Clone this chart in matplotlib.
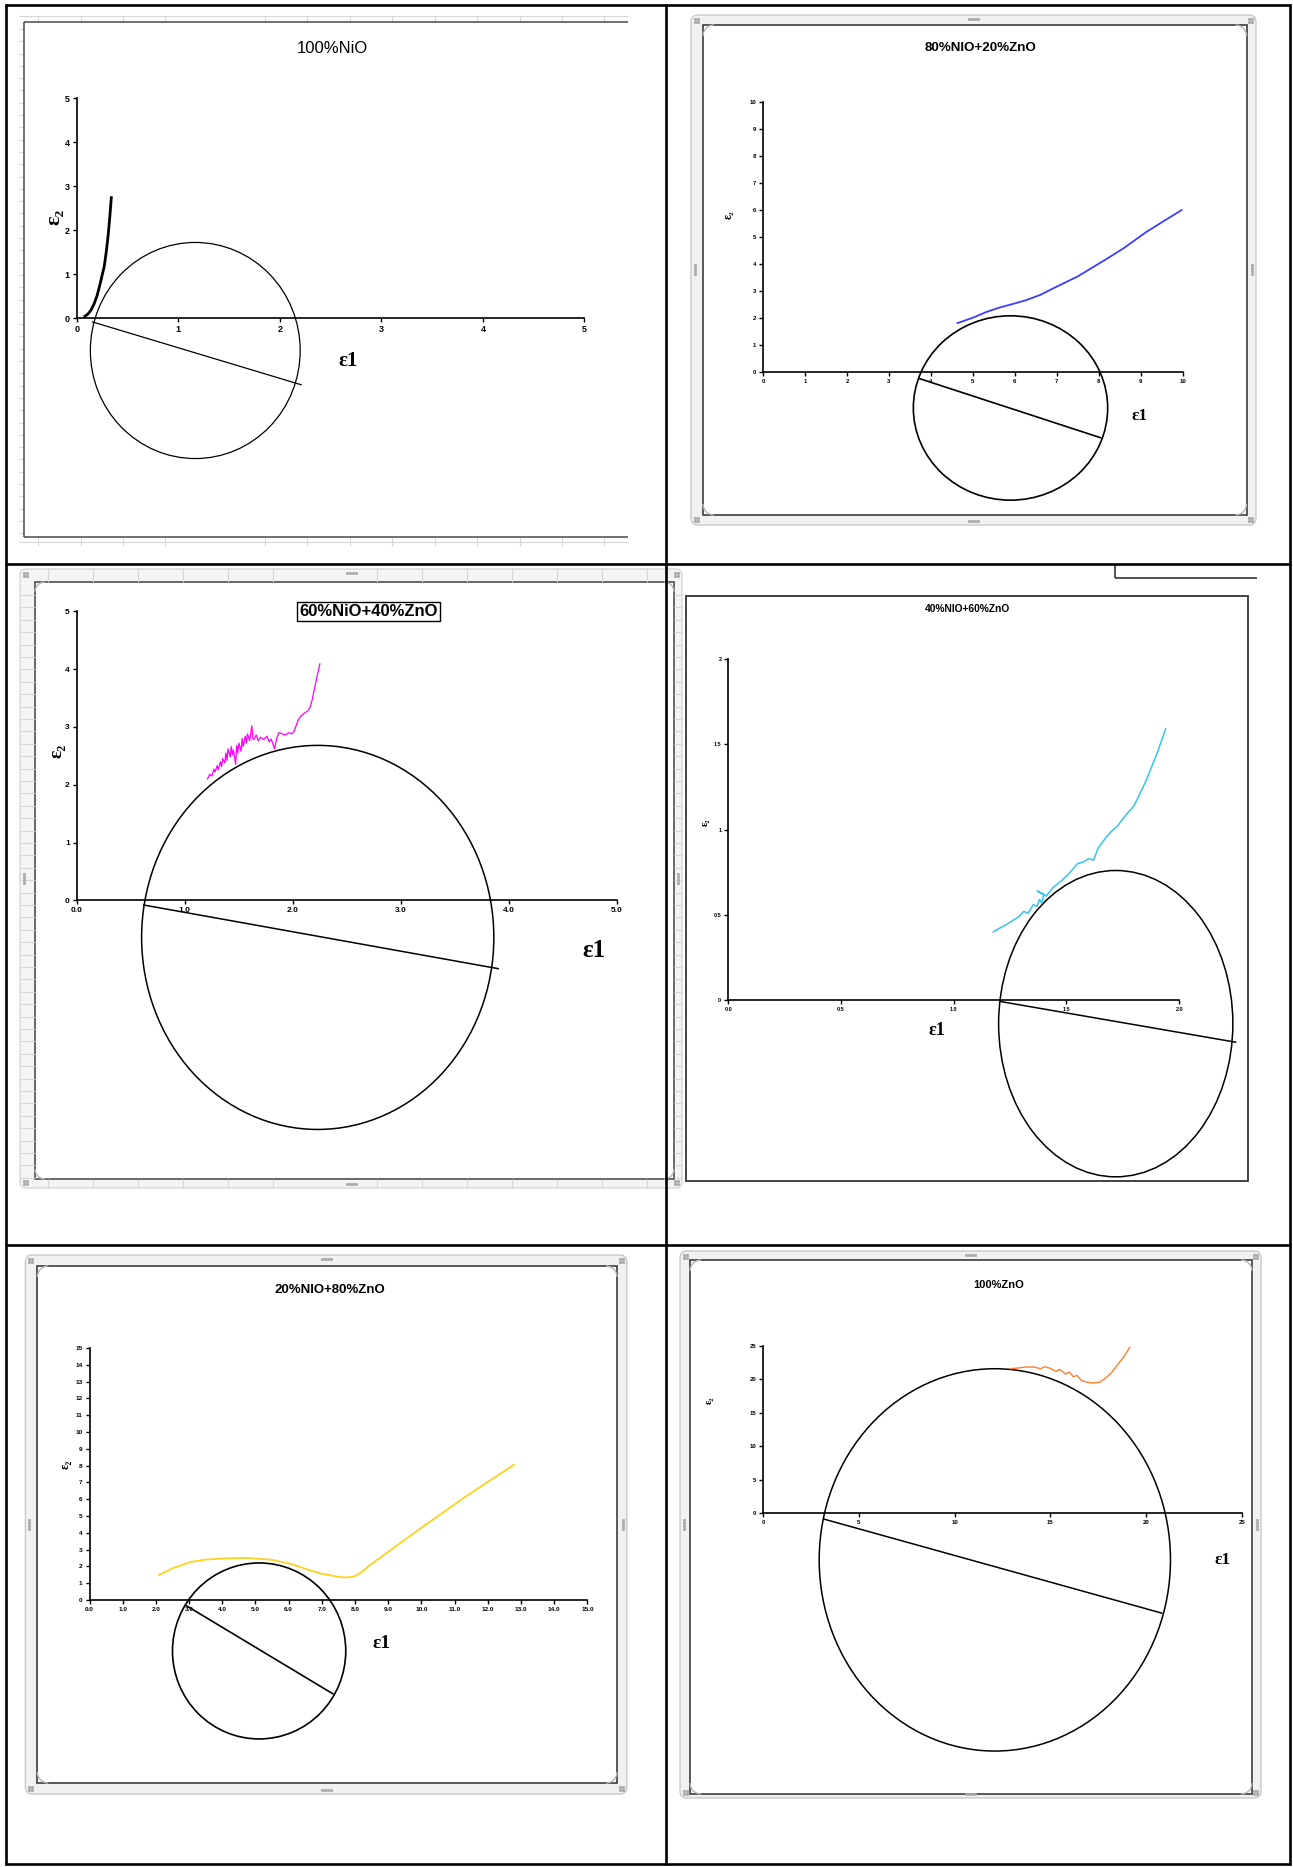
import numpy as np
import matplotlib.pyplot as plt
from matplotlib import font_manager
from matplotlib.patches import Ellipse, Rectangle, FancyBboxPatch, Arc

W, H = 1293, 1867


def pick(*names):
    for name in names:
        try:
            font_manager.findfont(name, fallback_to_default=False)
            return name
        except ValueError:
            continue
    return 'DejaVu Sans'


SANS = pick('Liberation Sans', 'Arial')
NARROW = pick('Liberation Sans Narrow', 'Arial Narrow', SANS)
SERIF = pick('Liberation Serif', 'Times New Roman', 'DejaVu Serif')

# ---- data: eps1 / eps2 curves, fitted circle (centre e1, centre e2, width, height), chord ----
nio_e1 = [0.08, 0.11, 0.14, 0.17, 0.20, 0.23, 0.25, 0.27, 0.29, 0.31, 0.325, 0.34]
nio_e2 = [0.04, 0.09, 0.18, 0.32, 0.51, 0.78, 0.98, 1.17, 1.50, 1.91, 2.30, 2.74]
nio_circle = [1.167, -0.74, 2.067, 4.92]
nio_chord = [[0.155, 2.21], [-0.09, -1.52]]

n80_e1 = [4.63, 5.0, 5.3, 5.6, 6.0, 6.25, 6.6, 6.97, 7.5, 8.16, 8.6, 9.11, 9.5, 9.97]
n80_e2 = [1.82, 2.02, 2.22, 2.38, 2.55, 2.66, 2.86, 3.15, 3.55, 4.17, 4.6, 5.17, 5.55, 6.0]
n80_circle = [5.895, -1.32, 4.63, 6.82]
n80_chord = [[3.72, 8.04], [-0.23, -2.42]]

n60_e1 = [1.21, 1.23, 1.25, 1.27, 1.28, 1.30, 1.31, 1.33, 1.34, 1.35, 1.37, 1.38, 1.39,
          1.40, 1.42, 1.43, 1.44, 1.45, 1.47, 1.48, 1.49, 1.50, 1.52, 1.53, 1.54, 1.56,
          1.57, 1.58, 1.60, 1.62, 1.63, 1.64, 1.66, 1.68, 1.70, 1.73, 1.76, 1.78, 1.80,
          1.83, 1.85, 1.87, 1.90, 1.93, 1.96, 1.99, 2.01, 2.03, 2.05, 2.08, 2.11, 2.14,
          2.16, 2.18, 2.20, 2.22, 2.25]
n60_e2 = [2.10, 2.18, 2.15, 2.27, 2.22, 2.33, 2.26, 2.40, 2.31, 2.45, 2.38, 2.55, 2.42,
          2.62, 2.48, 2.66, 2.52, 2.60, 2.35, 2.68, 2.55, 2.72, 2.58, 2.80, 2.66, 2.84,
          2.72, 2.88, 2.76, 3.02, 2.80, 2.78, 2.86, 2.76, 2.82, 2.78, 2.84, 2.74, 2.79,
          2.62, 2.80, 2.90, 2.88, 2.86, 2.90, 2.88, 2.92, 3.02, 3.12, 3.20, 3.24, 3.28,
          3.34, 3.48, 3.66, 3.84, 4.09]
n60_circle = [2.23, -0.64, 3.26, 6.64]
n60_chord = [[0.62, 3.90], [-0.08, -1.18]]

n40_e1 = [1.176, 1.20, 1.23, 1.265, 1.29, 1.31, 1.33, 1.353, 1.37, 1.38, 1.39, 1.40,
          1.37, 1.41, 1.44, 1.478, 1.51, 1.549, 1.575, 1.60, 1.62, 1.64, 1.673, 1.70,
          1.726, 1.76, 1.80, 1.851, 1.90, 1.94]
n40_e2 = [0.40, 0.42, 0.44, 0.47, 0.49, 0.52, 0.51, 0.56, 0.55, 0.59, 0.57, 0.62,
          0.64, 0.61, 0.66, 0.70, 0.74, 0.80, 0.81, 0.83, 0.82, 0.89, 0.95, 0.99,
          1.02, 1.08, 1.14, 1.28, 1.44, 1.59]
n40_circle = [1.7185, -0.1375, 1.039, 1.795]
n40_chord = [[1.208, 2.25], [-0.008, -0.246]]

n20_e1 = [2.09, 2.5, 3.05, 3.5, 3.95, 4.72, 5.48, 6.0, 6.25, 6.6, 7.01, 7.3, 7.53,
          7.75, 7.97, 8.2, 8.42, 9.2, 10.08, 11.36, 12.79]
n20_e2 = [1.48, 1.88, 2.26, 2.40, 2.46, 2.50, 2.39, 2.18, 2.03, 1.78, 1.55, 1.45, 1.36,
          1.34, 1.39, 1.65, 2.03, 3.15, 4.41, 6.19, 8.05]
n20_circle = [5.11, -3.04, 5.22, 10.48]
n20_chord = [[2.93, 7.33], [-0.36, -5.59]]

zno_e1 = [12.91, 13.3, 13.7, 14.12, 14.5, 14.7, 14.96, 15.3, 15.5, 15.8, 16.0, 16.2,
          16.4, 16.64, 16.9, 17.26, 17.6, 17.89, 18.2, 18.52, 18.85, 19.15]
zno_e2 = [21.6, 21.7, 21.85, 21.86, 21.6, 21.9, 21.7, 21.2, 21.5, 20.8, 21.1, 20.4,
          20.6, 19.8, 19.6, 19.45, 19.6, 20.2, 21.0, 22.2, 23.4, 24.8]
zno_circle = [12.105, -7.0, 18.35, 57.2]
zno_chord = [[3.18, 20.82], [-0.9, -14.96]]

fig = plt.figure(figsize=(W / 100, H / 100), dpi=100)
fig.patch.set_facecolor('white')
deco = fig.add_axes([0, 0, 1, 1])
deco.set_xlim(0, W)
deco.set_ylim(H, 0)
deco.axis('off')


def hline(y, xa, xb, **kw):
    deco.plot([xa, xb], [y, y], solid_capstyle='butt', **kw)


def vline(x, ya, yb, **kw):
    deco.plot([x, x], [ya, yb], solid_capstyle='butt', **kw)


grid_kw = dict(color='#d6d6d6', lw=0.8)
box_kw = dict(color='#4a4a4a', lw=1.1)


def handles(x0, x1, y0, y1):
    dot = dict(ls='none', marker='s', ms=1.1, color='#a9a9a9')
    xm, ym = (x0 + x1) / 2, (y0 + y1) / 2
    for cx, cy in [(x0 + 4, y0 + 4), (x1 - 7, y0 + 4), (x0 + 4, y1 - 7), (x1 - 7, y1 - 7)]:
        deco.plot([cx, cx + 3, cx, cx + 3], [cy, cy, cy + 3, cy + 3], **dot)
    offs = np.array([-4.5, -1.5, 1.5, 4.5])
    deco.plot(xm + offs, [y0 + 4] * 4, **dot)
    deco.plot(xm + offs, [y1 - 4] * 4, **dot)
    deco.plot([x0 + 4] * 4, ym + offs, **dot)
    deco.plot([x1 - 4] * 4, ym + offs, **dot)


def corner_arcs(x0, x1, y0, y1, r=11):
    kw = dict(color='#b5b5b5', lw=1.0)
    deco.add_patch(Arc((x0 + r, y0 + r), 2 * r, 2 * r, theta1=180, theta2=270, **kw))
    deco.add_patch(Arc((x1 - r, y0 + r), 2 * r, 2 * r, theta1=270, theta2=360, **kw))
    deco.add_patch(Arc((x0 + r, y1 - r), 2 * r, 2 * r, theta1=90, theta2=180, **kw))
    deco.add_patch(Arc((x1 - r, y1 - r), 2 * r, 2 * r, theta1=0, theta2=90, **kw))


def chart_frame(outer, inner):
    ox0, ox1, oy0, oy1 = outer
    ix0, ix1, iy0, iy1 = inner
    deco.add_patch(FancyBboxPatch((ox0, oy0), ox1 - ox0, oy1 - oy0,
                                  boxstyle='round,pad=0,rounding_size=7',
                                  fc='#f1f1f1', ec='#c4c4c4', lw=0.9))
    deco.add_patch(Rectangle((ix0, iy0), ix1 - ix0, iy1 - iy0,
                             fc='white', ec='#3c3c3c', lw=1.2))
    corner_arcs(ix0, ix1, iy0, iy1)
    handles(ox0, ox1, oy0, oy1)


# top-left: chart sitting on worksheet gridlines
hline(16, 19, 628, **grid_kw)
hline(542, 19, 628, **grid_kw)
for gx in [38, 81, 123, 165, 265, 307, 350, 392, 435, 477, 520, 562, 604]:
    vline(gx, 16, 22, **grid_kw)
    vline(gx, 537, 546, **grid_kw)
for gy in np.arange(29, 537, 12.3):
    hline(gy, 19, 24, **grid_kw)
hline(22, 24, 628, **box_kw)
hline(537, 24, 628, **box_kw)
vline(24, 22, 537, **box_kw)

# middle-left: selected chart over gridlines
deco.add_patch(FancyBboxPatch((20, 569), 662, 619, boxstyle='round,pad=0,rounding_size=6',
                              fc='#f4f4f4', ec='#d0d0d0', lw=0.8))
for gx in [48, 93, 138, 183, 228, 273, 377, 422, 467, 512, 557, 602, 647]:
    vline(gx, 569, 582, **grid_kw)
    vline(gx, 1179, 1188, **grid_kw)
for gy in np.arange(595, 1179, 12.4):
    hline(gy, 20, 35, **grid_kw)
    hline(gy, 674, 682, **grid_kw)
deco.add_patch(Rectangle((35, 582), 639, 597, fc='white', ec='#404040', lw=1.1))
corner_arcs(35, 674, 582, 1179, r=10)
handles(20, 682, 569, 1188)

# rounded selection frames
chart_frame((691, 1256, 15, 525), (703, 1246.5, 25, 515))
chart_frame((25.4, 626.8, 1255, 1794), (37.3, 617, 1266, 1783))
chart_frame((680, 1261, 1251, 1798), (690, 1252, 1260, 1794))

# middle-right: plain chart box and a stray connector
deco.add_patch(Rectangle((685.8, 595.6), 561.9, 585.4, fc='white', ec='#333333', lw=1.3))
vline(1115, 564, 577.7, color='#444444', lw=1.3)
hline(577.7, 1115, 1257, color='#444444', lw=1.3)

# table rules
tab = dict(color='black', lw=1.9, zorder=10)
hline(5.5, 4.5, 1291, **tab)
hline(1864.5, 4.5, 1291, **tab)
vline(5.5, 4.5, 1865.5, **tab)
vline(1290, 4.5, 1865.5, **tab)
vline(666, 4.5, 1865.5, **tab)
hline(564, 4.5, 1291, **tab)
hline(1245, 4.5, 1291, **tab)


def cole_axes(px, xmax, xstep, ymax, ystep, xfmt, yfmt, fs):
    x0, x1, y0, y1 = px
    ax = fig.add_axes([x0 / W, 1 - y0 / H, (x1 - x0) / W, (y0 - y1) / H])
    ax.set_facecolor('none')
    ax.set_xlim(0, xmax)
    ax.set_ylim(0, ymax)
    for side in ('top', 'right'):
        ax.spines[side].set_visible(False)
    for side in ('left', 'bottom'):
        ax.spines[side].set_linewidth(1.2)
        ax.spines[side].set_color('black')
    xt = np.arange(0, xmax + xstep / 2, xstep)
    yt = np.arange(0, ymax + ystep / 2, ystep)
    ax.set_xticks(xt)
    ax.set_xticklabels([xfmt.format(v) for v in xt])
    ax.set_yticks(yt)
    ax.set_yticklabels([yfmt.format(v) for v in yt])
    ax.tick_params(direction='out', length=3, width=1, labelsize=fs, pad=2)
    for lab in ax.get_xticklabels() + ax.get_yticklabels():
        lab.set_fontweight('bold')
        lab.set_family(SANS)
    return ax


def draw_panel(ax, e1, e2, color, lw, circle, chord, clw):
    ax.plot(e1, e2, color=color, lw=lw, clip_on=False, zorder=3)
    cx, cy, w, h = circle
    ax.add_patch(Ellipse((cx, cy), w, h, fill=False, ec='black', lw=clw, clip_on=False))
    ax.plot(chord[0], chord[1], color='black', lw=clw, clip_on=False)


ax1 = cole_axes((76.8, 584.4, 318, 98.4), 5, 1, 5, 1, '{:.0f}', '{:.0f}', 6.5)
draw_panel(ax1, nio_e1, nio_e2, 'black', 2.0, nio_circle, nio_chord, 0.9)

ax2 = cole_axes((763.1, 1182.8, 372.3, 102), 10, 1, 10, 1, '{:.0f}', '{:.0f}', 4.3)
draw_panel(ax2, n80_e1, n80_e2, '#3d3dff', 1.3, n80_circle, n80_chord, 1.2)

ax3 = cole_axes((76.8, 617, 900.4, 611.2), 5, 1, 5, 1, '{:.1f}', '{:.0f}', 6)
draw_panel(ax3, n60_e1, n60_e2, '#ff00ff', 0.9, n60_circle, n60_chord, 1.1)

ax4 = cole_axes((728.3, 1179.2, 1000.2, 658.9), 2, 0.5, 2, 0.5, '{:.1f}', '{:g}', 4)
draw_panel(ax4, n40_e1, n40_e2, '#33c4f5', 1.1, n40_circle, n40_chord, 1.1)

ax5 = cole_axes((89.5, 587.4, 1599.9, 1348), 15, 1, 15, 1, '{:.1f}', '{:.0f}', 4.6)
draw_panel(ax5, n20_e1, n20_e2, '#ffd21f', 1.3, n20_circle, n20_chord, 1.2)

ax6 = cole_axes((763.1, 1241.7, 1513.1, 1346), 25, 5, 25, 5, '{:.0f}', '{:.0f}', 4.3)
draw_panel(ax6, zno_e1, zno_e2, '#ff7f2a', 1.0, zno_circle, zno_chord, 1.1)

# titles
deco.text(332, 48.6, '100%NiO', fontsize=12, family=NARROW, ha='center', va='center')
deco.text(981, 48, '80%NIO+20%ZnO', fontsize=9.6, family=SANS, weight='bold',
          ha='center', va='center')
deco.text(368.5, 611.6, '60%NiO+40%ZnO', fontsize=12, family=SANS, weight='bold',
          ha='center', va='center',
          bbox=dict(boxstyle='square,pad=0.12', fc='white', ec='black', lw=1.0))
deco.text(967.4, 608.6, '40%NIO+60%ZnO', fontsize=7.4, family=SANS, weight='bold',
          ha='center', va='center')
deco.text(330, 1290, '20%NIO+80%ZnO', fontsize=9.5, family=SANS, weight='bold',
          ha='center', va='center')
deco.text(998.8, 1285.2, '100%ZnO', fontsize=8, family=SANS, weight='bold',
          ha='center', va='center')

# axis names
serif = [SERIF, 'DejaVu Serif']
eps_labels = [
    (54, 217, 'ε₂', 16, 90), (348, 361, 'ε1', 15, 0),
    (728.3, 214.4, 'ε₂', 8.5, 90), (1139.6, 416, 'ε1', 12.5, 0),
    (57.3, 750.8, 'ε₂', 14, 90), (593.7, 950.3, 'ε1', 18, 0),
    (705, 822, 'ε₂', 7.5, 90), (936.5, 1030.5, 'ε1', 13, 0),
    (65.7, 1464, 'ε₂', 9, 90), (381.7, 1643.8, 'ε1', 14, 0),
    (709, 1400, 'ε₂', 7.5, 90), (1222.9, 1560, 'ε1', 12.5, 0),
]
for x, y, txt, size, rot in eps_labels:
    deco.text(x, y, txt, fontsize=size, family=serif, weight='bold', rotation=rot,
              ha='center', va='center')

fig.savefig('out.png', dpi=100)
